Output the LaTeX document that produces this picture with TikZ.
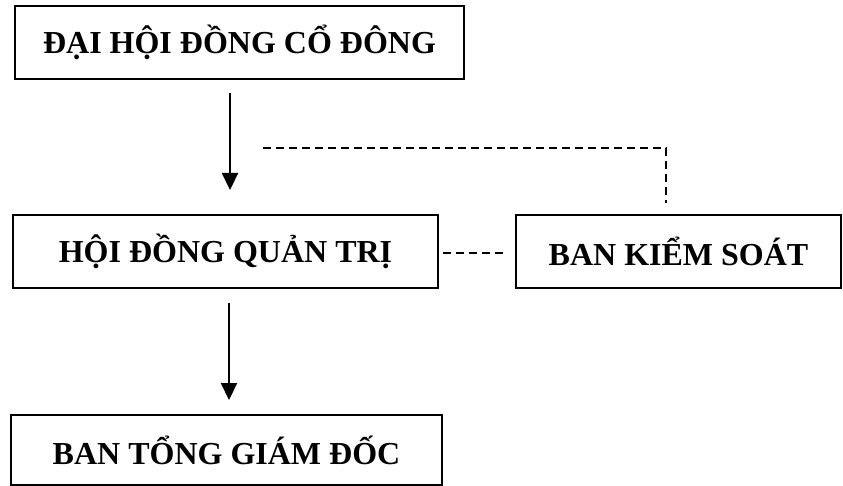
\documentclass[tikz,border=0pt]{standalone}
\usepackage{fontspec}
\setmainfont{Liberation Serif}
\usetikzlibrary{arrows.meta}
\begin{document}
\begin{tikzpicture}[x=1pt,y=-1pt,
  box/.style={draw=black, line width=2.7pt, inner sep=0pt, font=\fontsize{32}{36}\selectfont\bfseries},
  arr/.style={line width=2.2pt, -{Triangle[width=16pt,length=17pt]}},
  dash line/.style={line width=2.2pt, dash pattern=on 8pt off 5pt}]
\useasboundingbox (0,0) rectangle (843,486);
\node[box, minimum width=449pt, minimum height=73pt] (dhcd) at (239.5,42.5) {ĐẠI HỘI ĐỒNG CỔ ĐÔNG};
\node[box, minimum width=425pt, minimum height=73pt] (hdqt) at (225.5,251.5) {HỘI ĐỒNG QUẢN TRỊ};
\node[box, minimum width=325pt, minimum height=73pt] (bks) at (678.5,251.5) {BAN KIỂM SOÁT};
\node[box, minimum width=431pt, minimum height=70pt] (btgd) at (226.5,450) {BAN TỔNG GIÁM ĐỐC};
\coordinate (a1s) at (230,93);
\coordinate (a1e) at (230,190);
\coordinate (a2s) at (229,303);
\coordinate (a2e) at (229,400);
\coordinate (d1s) at (263,148);
\coordinate (d1e) at (666,203);
\coordinate (d2s) at (443,253);
\coordinate (d2e) at (507,253);
\draw[arr] (a1s) -- (a1e);
\draw[arr] (a2s) -- (a2e);
\draw[dash line] (d1s) -| (d1e);
\draw[dash line] (d2s) -- (d2e);
\end{tikzpicture}
\end{document}
